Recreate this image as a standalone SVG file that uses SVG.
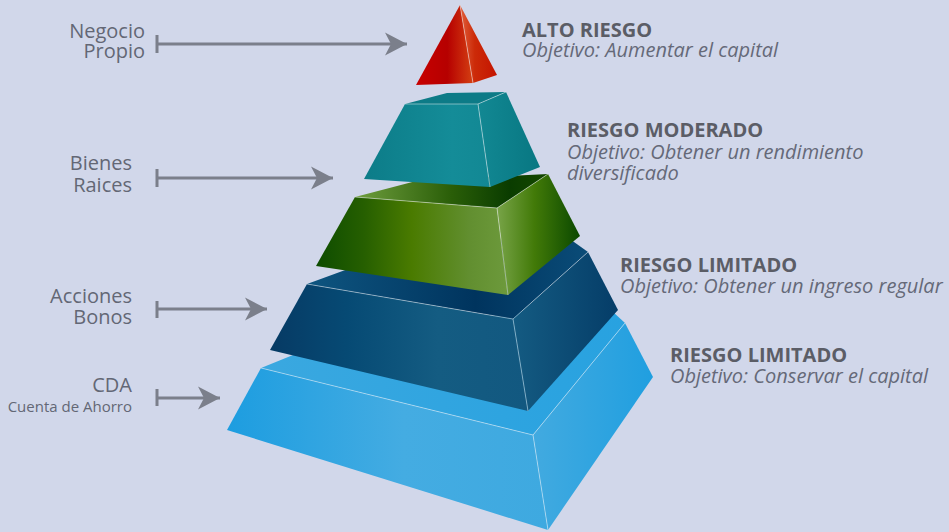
<svg xmlns="http://www.w3.org/2000/svg" width="949" height="532" viewBox="0 0 949 532">
<defs>
<style>
.lbl{font-family:"Open Sans","Liberation Sans",sans-serif;font-size:20px;fill:#636775;text-anchor:end}
.sm{font-size:15px}
.hd{font-family:"Open Sans","Liberation Sans",sans-serif;font-size:20px;font-weight:bold;fill:#5b5d66}
.ob{font-family:"Open Sans","Liberation Sans",sans-serif;font-size:20px;font-style:italic;fill:#656978}
.arr{stroke:#7b7f8b;stroke-width:3;fill:none}
.hl{stroke:#ffffff;stroke-opacity:0.45;stroke-width:1;fill:none}
</style>
<marker id="ah" markerUnits="userSpaceOnUse" markerWidth="24" markerHeight="26" refX="22" refY="12" orient="auto">
<path d="M0,0.5 L22,12 L0,23.5 L6,12 Z" fill="#7b7f8b"/>
</marker>
<linearGradient id="rF" x1="0" y1="0" x2="1" y2="0">
<stop offset="0" stop-color="#c80000"/><stop offset="0.55" stop-color="#b60000"/><stop offset="1" stop-color="#d44012"/>
</linearGradient>
<linearGradient id="rR" x1="0" y1="0" x2="1" y2="0">
<stop offset="0" stop-color="#e0603c"/><stop offset="0.4" stop-color="#cc2a08"/><stop offset="1" stop-color="#c41400"/>
</linearGradient>
<linearGradient id="tF" x1="0" y1="0" x2="1" y2="0">
<stop offset="0" stop-color="#0c7c88"/><stop offset="0.7" stop-color="#148c98"/><stop offset="1" stop-color="#128894"/>
</linearGradient>
<linearGradient id="tR" x1="0" y1="0" x2="1" y2="0">
<stop offset="0" stop-color="#128893"/><stop offset="1" stop-color="#087782"/>
</linearGradient>
<linearGradient id="gF" x1="0" y1="0" x2="1" y2="0">
<stop offset="0" stop-color="#0d4c00"/><stop offset="0.25" stop-color="#265f00"/><stop offset="0.5" stop-color="#4a7b00"/><stop offset="0.8" stop-color="#628f30"/><stop offset="1" stop-color="#6d9a3c"/>
</linearGradient>
<linearGradient id="gR" x1="0" y1="0" x2="1" y2="0">
<stop offset="0" stop-color="#78a448"/><stop offset="0.45" stop-color="#427a08"/><stop offset="1" stop-color="#0a4800"/>
</linearGradient>
<linearGradient id="gT" x1="0" y1="0" x2="1" y2="0">
<stop offset="0" stop-color="#6f9e3e"/><stop offset="0.5" stop-color="#2a5e08"/><stop offset="0.8" stop-color="#0a3c00"/><stop offset="1" stop-color="#144800"/>
</linearGradient>
<linearGradient id="nF" x1="0" y1="0" x2="1" y2="0">
<stop offset="0" stop-color="#063a64"/><stop offset="0.3" stop-color="#064a74"/><stop offset="0.65" stop-color="#145c82"/><stop offset="1" stop-color="#125880"/>
</linearGradient>
<linearGradient id="nR" x1="0" y1="0" x2="1" y2="0">
<stop offset="0" stop-color="#145b82"/><stop offset="1" stop-color="#053d68"/>
</linearGradient>
<linearGradient id="nT" x1="0" y1="0" x2="1" y2="0">
<stop offset="0" stop-color="#0e5580"/><stop offset="0.6" stop-color="#00345e"/><stop offset="1" stop-color="#0a4c78"/>
</linearGradient>
<linearGradient id="bF" x1="0" y1="0" x2="1" y2="0">
<stop offset="0" stop-color="#1d9de0"/><stop offset="0.55" stop-color="#44ace2"/><stop offset="1" stop-color="#3ea9e0"/>
</linearGradient>
<linearGradient id="bR" x1="0" y1="0" x2="1" y2="0">
<stop offset="0" stop-color="#42aae0"/><stop offset="1" stop-color="#209fe0"/>
</linearGradient>
<linearGradient id="bT" x1="0" y1="0" x2="1" y2="0">
<stop offset="0" stop-color="#3aa8e0"/><stop offset="1" stop-color="#28a2e0"/>
</linearGradient>
</defs>
<rect width="949" height="532" fill="#d1d7ea"/>

<g id="tier-base">
<polygon points="261,368 330,340 600,300 625,323 533,435" fill="url(#bT)"/>
<polygon points="261,368 533,435 548,530 227,430" fill="url(#bF)"/>
<polygon points="533,435 625,323 653,377 548,530" fill="url(#bR)"/>
<polyline class="hl" points="261,368 533,435 625,323"/>
<line class="hl" x1="533" y1="435" x2="548" y2="530"/>
</g>

<g id="tier-navy">
<polygon points="307,284 400,250 560,232 588,252 513,319" fill="url(#nT)"/>
<polygon points="307,284 513,319 528,411 270,350" fill="url(#nF)"/>
<polygon points="513,319 588,252 618,310 528,411" fill="url(#nR)"/>
<polyline class="hl" points="307,284 513,319 588,252"/>
<line class="hl" x1="513" y1="319" x2="528" y2="411"/>
</g>

<g id="tier-green">
<polygon points="355,197 420,180 548,174 497,208" fill="url(#gT)"/>
<polygon points="355,197 497,208 508,295 316,266" fill="url(#gF)"/>
<polygon points="497,208 548,174 580,236 508,295" fill="url(#gR)"/>
<polyline class="hl" points="355,197 497,208 548,174"/>
<line class="hl" x1="497" y1="208" x2="508" y2="295"/>
</g>

<g id="tier-teal">
<polygon points="405,104 447,93 506,92 478,104" fill="#0d7b87"/>
<polygon points="405,104 478,104 490,187 364,179" fill="url(#tF)"/>
<polygon points="478,104 506,92 540,167 490,187" fill="url(#tR)"/>
<polyline class="hl" points="405,104 478,104 506,92"/>
<line class="hl" x1="478" y1="104" x2="490" y2="187"/>
</g>

<g id="tier-top">
<polygon points="460,5 473,83 416,85" fill="url(#rF)"/>
<polygon points="460,5 497,75 473,83" fill="url(#rR)"/>
<line class="hl" x1="460" y1="5" x2="473" y2="83"/>
</g>

<g id="connectors">
<line class="arr" x1="157" y1="35" x2="157" y2="53"/>
<line class="arr" x1="157" y1="44" x2="407" y2="44" marker-end="url(#ah)"/>
<line class="arr" x1="157" y1="169" x2="157" y2="187"/>
<line class="arr" x1="157" y1="178" x2="333" y2="178" marker-end="url(#ah)"/>
<line class="arr" x1="157" y1="301" x2="157" y2="318"/>
<line class="arr" x1="157" y1="309" x2="267" y2="309" marker-end="url(#ah)"/>
<line class="arr" x1="157" y1="389" x2="157" y2="406"/>
<line class="arr" x1="157" y1="398" x2="220" y2="398" marker-end="url(#ah)"/>
</g>

<g id="label-negocio">
<text class="lbl" x="145" y="38">Negocio</text>
<text class="lbl" x="145" y="58">Propio</text>
</g>
<g id="label-bienes">
<text class="lbl" x="132" y="170">Bienes</text>
<text class="lbl" x="132" y="192">Raices</text>
</g>
<g id="label-acciones">
<text class="lbl" x="132" y="303">Acciones</text>
<text class="lbl" x="132" y="324">Bonos</text>
</g>
<g id="label-cda">
<text class="lbl" x="132" y="392">CDA</text>
<text class="lbl sm" x="132" y="412">Cuenta de Ahorro</text>
</g>

<g id="desc-alto">
<text class="hd" x="522" y="37">ALTO RIESGO</text>
<text class="ob" x="522" y="57">Objetivo: Aumentar el capital</text>
</g>
<g id="desc-moderado">
<text class="hd" x="567" y="137">RIESGO MODERADO</text>
<text class="ob" x="567" y="159">Objetivo: Obtener un rendimiento</text>
<text class="ob" x="567" y="180">diversificado</text>
</g>
<g id="desc-limitado1">
<text class="hd" x="620" y="272">RIESGO LIMITADO</text>
<text class="ob" x="620" y="293">Objetivo: Obtener un ingreso regular</text>
</g>
<g id="desc-limitado2">
<text class="hd" x="670" y="362">RIESGO LIMITADO</text>
<text class="ob" x="670" y="383">Objetivo: Conservar el capital</text>
</g>
</svg>
